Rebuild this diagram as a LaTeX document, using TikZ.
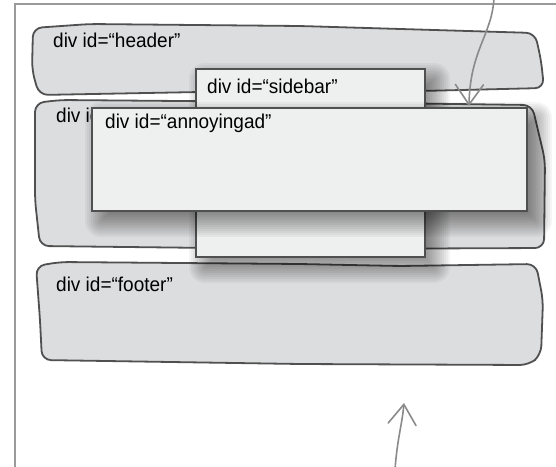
\documentclass[tikz,border=0pt]{standalone}
\usepackage{fontspec}
\setmainfont{Liberation Sans}[FakeStretch=0.95]
\usetikzlibrary{positioning,arrows.meta}
\definecolor{blobfill}{HTML}{DCDDDF}
\definecolor{boxfill}{HTML}{EEF0F0}
\definecolor{inkline}{HTML}{505050}
\definecolor{pencil}{HTML}{8A8A8A}
\definecolor{framegray}{HTML}{9A9A9A}
% soft drop shadow between two corner coordinates
\newcommand{\softshadow}[2]{%
  \foreach \k [evaluate=\k as \r using {max(16-2*\k,0.1)}] in {0,...,15}
    \fill[black,fill opacity=0.038,rounded corners=\r pt]
      ([shift={(2*\k-6,2*\k-5)}]#1) rectangle ([shift={(26-2*\k,27-2*\k)}]#2);}

\begin{document}
\begin{tikzpicture}[x=1pt,y=-1pt,
  blob/.style={draw=inkline,fill=blobfill,line width=1.8pt,rounded corners=9pt},
  divbox/.style={draw=inkline,fill=boxfill,line width=2.3pt,inner sep=0pt,
    anchor=north west},
  divlabel/.style={anchor=base west,inner sep=0pt,text=black,
    font=\fontsize{20}{22}\selectfont},
  pointer/.style={draw=pencil,line width=1.6pt,line cap=round,
    -{Straight Barb[length=20pt,width=28pt,line cap=round]}}]
\useasboundingbox (0,0) rectangle (556,466);
\draw[framegray,line width=2pt] (15,470) |- (560,4);

% the three page blocks
\draw[blob] (33,28) -- (90,24) -- (300,26) -- (535,33) -- (541,60) -- (544,88)
  -- (420,91) -- (200,92) -- (39,95) -- (32,70) -- cycle;
\draw[blob] (35,103) -- (60,100) -- (300,102) -- (532,105) -- (545,160) -- (544,248)
  -- (300,249) -- (40,246) -- (35,200) -- cycle;
\draw[blob] (36,266) -- (60,262) -- (300,264) -- (400,266) -- (536,264) -- (543,300)
  -- (541,355) -- (529,365) -- (300,364) -- (42,360) -- (40,320) -- cycle;
\node[divlabel] (headerlbl) at (53,47) {div id=“header”};
\node[divlabel] (contentlbl) at (56,122) {div id=“content”};
\node[divlabel] (footerlbl) at (56,291) {div id=“footer”};

% floating boxes
\coordinate (sbnw) at (195,68);
\coordinate (sbse) at (424,256);
\coordinate (adnw) at (91,107);
\coordinate (adse) at (526,210);
\softshadow{sbnw}{sbse}
\node[divbox,minimum width=229,minimum height=188] (sidebar) at (sbnw) {};
\node[divlabel] (sidebarlbl) at ([shift={(12,25)}]sidebar.north west) {div id=“sidebar”};
\softshadow{adnw}{adse}
\node[divbox,minimum width=435,minimum height=103] (annoyingad) at (adnw) {};
\node[divlabel] (adlbl) at ([shift={(14,21)}]annoyingad.north west) {div id=“annoyingad”};

% pencil arrows
\coordinate (topstart) at (494,-2);
\coordinate (toptip) at (469,106);
\coordinate (botstart) at (395,470);
\coordinate (bottip) at (404,403);
\draw[pointer] (topstart) .. controls (492,35) and (470,50) .. (toptip);
\draw[pointer] (botstart) .. controls (397,440) and (402,425) .. (bottip);
\end{tikzpicture}
\end{document}
